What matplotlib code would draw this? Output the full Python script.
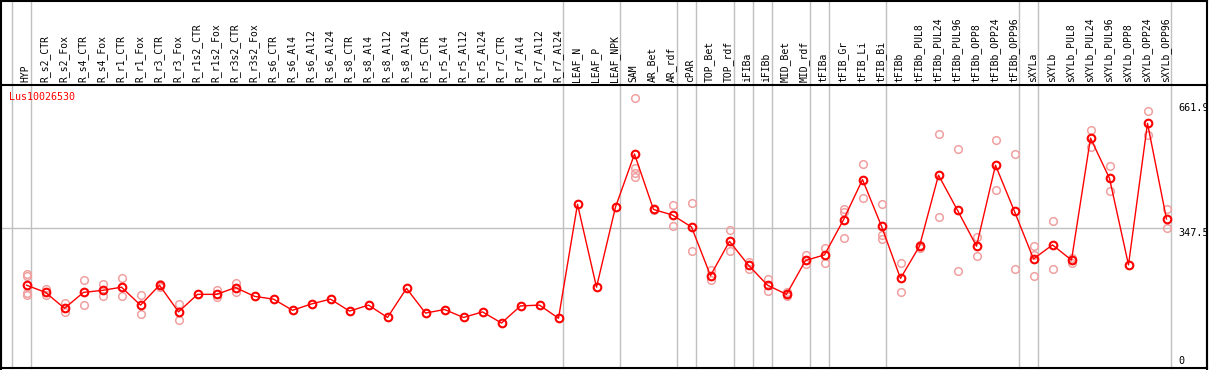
import numpy as np
import matplotlib
matplotlib.use("Agg")
import matplotlib.pyplot as plt
from matplotlib.lines import Line2D

# sample names (one column each)
samples = [
    "HYP",
    "R_s2_CTR", "R_s2_Fox", "R_s4_CTR", "R_s4_Fox", "R_r1_CTR", "R_r1_Fox",
    "R_r3_CTR", "R_r3_Fox", "R_r1s2_CTR", "R_r1s2_Fox", "R_r3s2_CTR", "R_r3s2_Fox",
    "R_s6_CTR", "R_s6_Al4", "R_s6_Al12", "R_s6_Al24",
    "R_s8_CTR", "R_s8_Al4", "R_s8_Al12", "R_s8_Al24",
    "R_r5_CTR", "R_r5_Al4", "R_r5_Al12", "R_r5_Al24",
    "R_r7_CTR", "R_r7_Al4", "R_r7_Al12", "R_r7_Al24",
    "LEAF_N", "LEAF_P", "LEAF_NPK",
    "SAM", "AR_Bet", "AR_rdf", "cPAR", "TOP_Bet", "TOP_rdf",
    "iFIBa", "iFIBb", "MID_Bet", "MID_rdf",
    "tFIBa", "tFIB_Gr", "tFIB_Li", "tFIB_Bi",
    "tFIBb", "tFIBb_PUL8", "tFIBb_PUL24", "tFIBb_PUL96",
    "tFIBb_OPP8", "tFIBb_OPP24", "tFIBb_OPP96",
    "sXYLa", "sXYLb", "sXYLb_PUL8", "sXYLb_PUL24", "sXYLb_PUL96",
    "sXYLb_OPP8", "sXYLb_OPP24", "sXYLb_OPP96",
]

# mean expression per sample
means = [
    204, 186, 146, 186, 191, 199, 154, 204, 137, 181, 181, 198, 176,
    169, 141, 157, 169, 139, 154, 123, 196, 134, 143, 123, 137, 109, 152, 154, 121,
    407, 199, 400,
    533, 394, 380, 350, 228, 314,
    254, 204, 181, 266,
    280, 368, 469, 352,
    221, 302, 480, 392, 302, 505, 389,
    270, 305, 267, 573, 472, 255, 610, 370,
]

# individual replicates
reps = [
    [231, 226, 185, 179], [195, 179], [159, 137], [216, 154], [208, 178], [222, 176],
    [179, 131], [207, 200], [156, 117], [], [191, 175], [210, 188], [],
    [], [], [], [], [], [], [], [], [], [], [], [], [], [], [], [],
    [], [], [],
    [673, 497, 486, 476], [395, 393], [404, 353], [409, 289], [242, 217], [342, 289],
    [263, 245], [219, 189], [186, 177], [279, 258],
    [298, 260], [394, 388, 322], [507, 422], [407, 330, 319],
    [260, 187], [305, 297], [583, 375], [545, 239], [326, 276], [567, 442], [532, 245],
    [302, 280, 228], [364, 244], [273, 259], [593, 551], [502, 440], [], [640, 581], [395, 347],
]

# last sample of each group (gray separator drawn after it)
group_ends = [-1, 0, 28, 31, 34, 35, 37, 38, 39, 41, 42, 45, 52, 53, 60]

gene = "Lus10026530"
ref_values = [661.9, 347.5]

W, H = 1209, 370
fig = plt.figure(figsize=(W / 100, H / 100), dpi=100)
fig.patch.set_facecolor("white")

# plot area in pixels
left, right, top, bottom = 1, 1207, 85, 368
ax = fig.add_axes([left / W, (H - bottom) / H, (right - left) / W, (bottom - top) / H])

x = np.arange(len(samples))
xmin = -(26.5 - left) / 19.0
ax.set_xlim(xmin, xmin + (right - left) / 19.0)
ppu = 0.3986
ymin = -1.5 / ppu
ax.set_ylim(ymin, ymin + (bottom - top) / ppu)

gray = "#c0c0c0"
ext = (bottom - 0) / (bottom - top)
for g in group_ends:
    ax.axvline(g + 4 / 19.0, ymin=0, ymax=ext, color=gray, lw=1, clip_on=False, zorder=1)

ax.hlines(347.5, xmin, 60 + 4 / 19.0, color=gray, lw=1, zorder=1)

for i, r in enumerate(reps):
    if r:
        ax.plot([i] * len(r), r, "o", ms=5.5, mfc="none", mec="#f0a0a0", mew=1.1, zorder=2)

ax.plot(x, means, "-", color="#ff0000", lw=1, zorder=3)
ax.plot(x, means, "o", ms=5.5, mfc="none", mec="#ff0000", mew=1.5, zorder=4)

for i, name in enumerate(samples):
    ax.text(i - 0.05, 1 + 3 / (bottom - top), name, rotation=90, ha="center", va="bottom",
            transform=ax.get_xaxis_transform(), fontsize=7, family="DejaVu Sans Mono",
            clip_on=False)

for v in ref_values:
    ax.text(60.6, v, str(v), ha="left", va="top", fontsize=7.3,
            family="DejaVu Sans Mono", clip_on=False)
# zero label sits just above the bottom frame
ax.text(60.6, 0, "0", ha="left", va="bottom", fontsize=7.3,
        family="DejaVu Sans Mono", clip_on=False)

ax.text(8.5 / W, (H - 97) / H, gene, transform=fig.transFigure, color="#ff0000",
        fontsize=7.2, family="DejaVu Sans Mono", va="center", ha="left")

ax.set_xticks([])
ax.set_yticks([])
for s in ax.spines.values():
    s.set_linewidth(1.5)
    s.set_color("black")

# header box around the sample names
for xs, ys in [([left / W, left / W], [1, 0]), ([right / W, right / W], [1, 0]),
               ([left / W, right / W], [1 - 0.5 / H, 1 - 0.5 / H])]:
    fig.add_artist(Line2D(xs, ys, color="black", lw=1.5))

fig.savefig("out.png", dpi=100)
